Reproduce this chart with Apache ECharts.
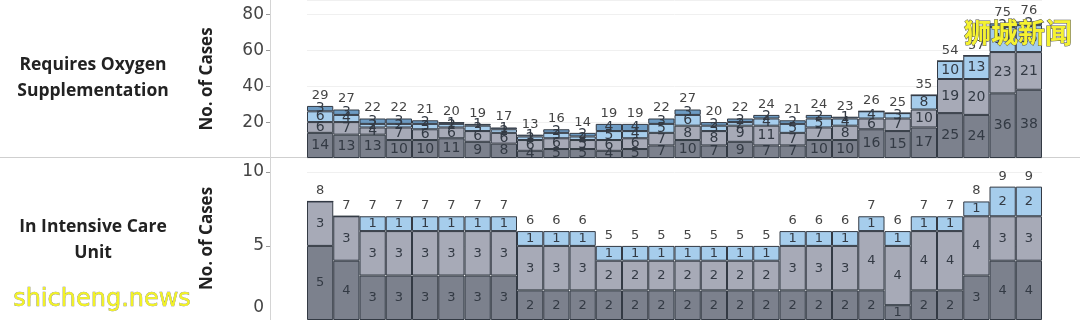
<!DOCTYPE html>
<html><head><meta charset="utf-8">
<script src="https://cdn.jsdelivr.net/npm/echarts@6/dist/echarts.min.js"></script>
<style>html,body{margin:0;padding:0;background:#fff}#c{width:1080px;height:320px}</style>
</head><body><div id="c"></div>
<script>
const categories = ['D1','D2','D3','D4','D5','D6','D7','D8','D9','D10','D11','D12','D13','D14','D15','D16','D17','D18','D19','D20','D21','D22','D23','D24','D25','D26','D27','D28'];
// Requires Oxygen Supplementation (4 stacked parts, bottom to top)
const oxyA = [14,13,13,10,10,11,9,8,4,5,5,4,5,7,10,7,9,7,7,10,10,16,15,17,25,24,36,38];
const oxyB = [6,7,4,7,6,6,6,6,6,6,5,6,6,7,8,8,9,11,7,7,8,6,7,10,19,20,23,21];
const oxyC = [6,4,2,2,3,2,3,2,2,3,2,5,4,5,6,3,2,4,5,5,4,4,3,8,10,13,14,15];
const oxyD = [3,3,3,3,2,1,1,1,1,2,2,4,4,3,3,2,2,2,2,2,1,0,0,0,0,0,2,2];
const oxyTotal = [29,27,22,22,21,20,19,17,13,16,14,19,19,22,27,20,22,24,21,24,23,26,25,35,54,57,75,76];
// In Intensive Care Unit (3 stacked parts)
const icuA = [5,4,3,3,3,3,3,3,2,2,2,2,2,2,2,2,2,2,2,2,2,2,1,2,2,3,4,4];
const icuB = [3,3,3,3,3,3,3,3,3,3,3,2,2,2,2,2,2,2,3,3,3,4,4,4,4,4,3,3];
const icuC = [0,0,1,1,1,1,1,1,1,1,1,1,1,1,1,1,1,1,1,1,1,1,1,1,1,1,2,2];
const icuTotal = [8,7,7,7,7,7,7,7,6,6,6,5,5,5,5,5,5,5,6,6,6,7,6,7,7,8,9,9];
const oxyTicks = [0,20,40,60,80];
const icuTicks = [0,5,10];

const COL = ['#7c818d','#a7aab7','#a6cdec','#6d9bc3'];
const numFont = 'DejaVu Sans';
const chart = echarts.init(document.getElementById('c'), null, {renderer:'canvas'});

function seg(name, data, color, xi, fs){
  return {type:'bar', name, data, stack:'s'+xi, xAxisIndex:xi, yAxisIndex:xi,
    barCategoryGap:'0%', barGap:'-100%',
    itemStyle:{color, borderColor:'#333a44', borderWidth:1},
    label:{show:true, position:'inside', fontFamily:numFont, fontSize:fs, color:'#333a44',
      formatter:p=>p.value>0?String(p.value):''},
    emphasis:{disabled:true}, silent:true};
}
function tot(data, xi){
  return {type:'bar', data, xAxisIndex:xi, yAxisIndex:xi, barCategoryGap:'0%', barGap:'-100%',
    itemStyle:{color:'rgba(0,0,0,0)', borderWidth:0}, z:1,
    label:{show:true, position:'top', distance:4, fontFamily:numFont, fontSize:13, color:'#444'},
    silent:true};
}
const yCommon = {
  type:'value', min:0, offset:37,
  axisLine:{show:true, lineStyle:{color:'#d4d4d4'}},
  axisTick:{show:true, length:4, lineStyle:{color:'#999'}},
  axisLabel:{fontFamily:numFont, fontSize:17, color:'#444', margin:6, showMaxLabel:false},
  splitLine:{show:true, lineStyle:{color:'#f0f0f0'}},
  nameLocation:'middle', nameGap:54,
  nameTextStyle:{fontFamily:'Open Sans', fontWeight:'bold', fontSize:17, color:'#222'}
};
const option = {
  animation:false,
  grid:[
    {left:307, right:38, top:0, height:158},
    {left:307, right:38, top:157, height:165}
  ],
  xAxis:[
    {type:'category', data:categories, gridIndex:0, show:false},
    {type:'category', data:categories, gridIndex:1, show:false}
  ],
  yAxis:[
    Object.assign({}, yCommon, {gridIndex:0, max:88, interval:20, name:'No. of Cases',
      axisLabel:Object.assign({}, yCommon.axisLabel, {showMinLabel:false})}),
    Object.assign({}, yCommon, {gridIndex:1, max:11, interval:5, name:'No. of Cases',
      axisLabel:Object.assign({}, yCommon.axisLabel, {
        formatter:v=>v===0?'{z|0}':String(v),
        rich:{z:{fontFamily:numFont, fontSize:17, color:'#444', padding:[0,0,24,0]}}})})
  ],
  series:[
    seg('A', oxyA, COL[0], 0, 14), seg('B', oxyB, COL[1], 0, 14),
    seg('C', oxyC, COL[2], 0, 14), seg('D', oxyD, COL[3], 0, 14),
    tot(oxyTotal, 0),
    seg('A', icuA, COL[0], 1, 13), seg('B', icuB, COL[1], 1, 13),
    seg('C', icuC, COL[2], 1, 13),
    tot(icuTotal, 1)
  ],
  graphic:[
    {type:'line', shape:{x1:0,y1:157.5,x2:1080,y2:157.5}, style:{stroke:'#cfcfcf', lineWidth:1}, z:0},
    {type:'text', style:{x:93, y:78, text:'Requires Oxygen\nSupplementation', align:'center', verticalAlign:'middle',
      font:'bold 17.5px "Open Sans"', fill:'#222', lineHeight:26}},
    {type:'text', style:{x:93, y:240, text:'In Intensive Care\nUnit', align:'center', verticalAlign:'middle',
      font:'bold 17.5px "Open Sans"', fill:'#222', lineHeight:26}},
    {type:'text', z:100, style:{x:1018, y:33, text:'狮城新闻', align:'center', verticalAlign:'middle',
      font:'bold 27px "Noto Sans CJK SC"', fill:'#f5f230', stroke:'#555', lineWidth:1}},
    {type:'text', z:100, style:{x:102, y:300, text:'shicheng.news', align:'center', verticalAlign:'middle',
      font:'24px "DejaVu Sans"', fill:'#f2f226', stroke:'#777', lineWidth:0.5}}
  ]
};
chart.setOption(option);
</script></body></html>
